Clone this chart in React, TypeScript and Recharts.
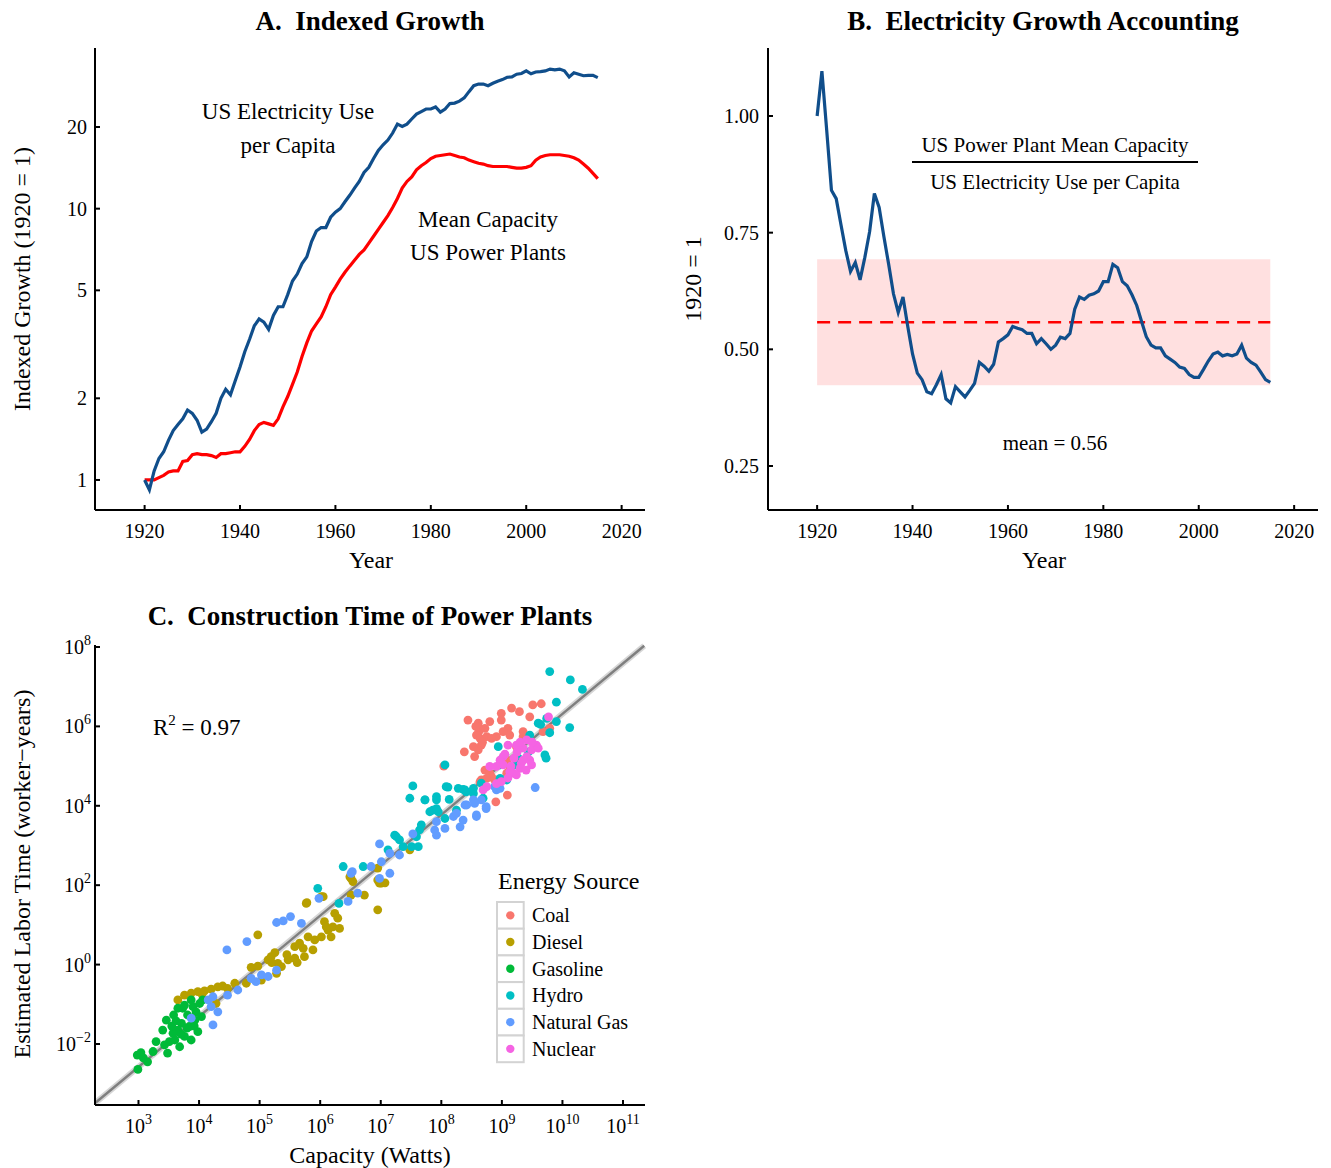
import React from 'react';
import {
  LineChart, Line, XAxis, YAxis, ReferenceArea, ReferenceLine,
  ScatterChart, Scatter,
} from 'recharts';

const SERIF = '"Liberation Serif", "Times New Roman", serif';

// ---------- Panel A & B data (1920..2015) ----------
const START_YEAR = 1920;
const ELEC_PER_CAPITA = [
  1.00, 0.92, 1.08, 1.20, 1.27, 1.40, 1.52, 1.60, 1.68, 1.81,
  1.76, 1.66, 1.50, 1.54, 1.64, 1.76, 2.00, 2.16, 2.06, 2.32,
  2.61, 2.97, 3.30, 3.70, 3.92, 3.82, 3.59, 4.04, 4.35, 4.35,
  4.82, 5.41, 5.74, 6.27, 6.64, 7.57, 8.27, 8.52, 8.52, 9.30,
  9.71, 10.0, 10.6, 11.2, 11.9, 12.6, 13.6, 14.2, 15.3, 16.4,
  17.2, 17.9, 19.0, 20.5, 20.1, 20.5, 21.4, 22.3, 22.8, 23.3,
  23.3, 23.7, 22.7, 23.3, 24.4, 24.5, 24.9, 25.6, 27.0, 28.4,
  28.8, 28.8, 28.4, 29.0, 29.5, 29.9, 30.5, 30.6, 31.3, 31.5,
  32.2, 31.4, 31.9, 32.0, 32.2, 32.7, 32.5, 32.7, 32.2, 30.6,
  31.7, 31.3, 30.9, 31.0, 31.0, 30.4,
];
const MEAN_CAPACITY = [
  1.00, 1.00, 1.00, 1.02, 1.04, 1.07, 1.08, 1.08, 1.17, 1.18,
  1.24, 1.25, 1.24, 1.24, 1.23, 1.21, 1.25, 1.25, 1.26, 1.27,
  1.27, 1.33, 1.41, 1.52, 1.60, 1.63, 1.61, 1.59, 1.68, 1.86,
  2.03, 2.25, 2.50, 2.85, 3.20, 3.54, 3.76, 3.99, 4.35, 4.82,
  5.14, 5.50, 5.83, 6.14, 6.45, 6.78, 7.04, 7.47, 7.91, 8.39,
  8.89, 9.43, 10.1, 10.9, 11.9, 12.6, 13.1, 13.9, 14.4, 14.8,
  15.3, 15.6, 15.7, 15.8, 15.9, 15.7, 15.5, 15.4, 15.1, 14.9,
  14.7, 14.6, 14.4, 14.3, 14.3, 14.3, 14.3, 14.2, 14.1, 14.1,
  14.2, 14.4, 15.1, 15.5, 15.7, 15.8, 15.8, 15.8, 15.7, 15.6,
  15.4, 15.1, 14.6, 14.1, 13.5, 12.9,
];
const RATIO = [
  1.000, 1.096, 0.970, 0.841, 0.823, 0.767, 0.712, 0.667, 0.686, 0.649,
  0.697, 0.752, 0.834, 0.804, 0.741, 0.682, 0.619, 0.579, 0.612, 0.549,
  0.490, 0.449, 0.435, 0.409, 0.405, 0.424, 0.446, 0.394, 0.385, 0.420,
  0.409, 0.398, 0.412, 0.427, 0.472, 0.464, 0.453, 0.468, 0.516, 0.523,
  0.531, 0.549, 0.545, 0.542, 0.534, 0.534, 0.512, 0.523, 0.512, 0.500,
  0.509, 0.526, 0.523, 0.534, 0.586, 0.612, 0.607, 0.616, 0.619, 0.625,
  0.645, 0.645, 0.682, 0.675, 0.645, 0.636, 0.617, 0.594, 0.560, 0.527,
  0.509, 0.503, 0.503, 0.486, 0.479, 0.472, 0.462, 0.459, 0.446, 0.440,
  0.440, 0.457, 0.475, 0.490, 0.494, 0.486, 0.489, 0.486, 0.490, 0.509,
  0.481, 0.472, 0.466, 0.451, 0.435, 0.429,
];
const RATIO_MEAN = 0.558;
const RATIO_BAND = [0.423, 0.693];
const YEAR_TICKS = [1920, 1940, 1960, 1980, 2000, 2020];
const GROWTH_TICKS = [1, 2, 5, 10, 20];
const RATIO_TICKS = [0.25, 0.5, 0.75, 1.0];

// ---------- Panel C data: [log10 capacity (W), log10 labor (worker-years)] ----------
const COAL = [
  [8.44, 6.16], [8.61, 6.08], [8.62, 5.87], [8.58, 5.78], [8.64, 5.70], [8.72, 5.95],
  [8.80, 6.12], [8.75, 5.74], [8.66, 5.53], [8.61, 5.41], [8.55, 5.24], [8.53, 5.49],
  [8.38, 5.36], [8.04, 5.00], [8.99, 6.33], [8.99, 6.16], [9.16, 6.46], [9.29, 6.37],
  [9.46, 6.24], [9.51, 6.54], [9.65, 6.57], [9.10, 5.95], [9.13, 5.78], [9.02, 5.87],
  [8.91, 5.74], [8.83, 5.70], [9.35, 5.87], [9.35, 5.74], [9.68, 5.87], [9.79, 5.95],
  [9.24, 5.49], [9.08, 5.15], [9.10, 5.03], [9.08, 4.82], [8.72, 4.90], [8.80, 4.82],
  [8.83, 4.73], [8.75, 4.69], [8.66, 4.65], [8.88, 4.65], [8.64, 4.61], [9.09, 4.27],
  [8.90, 4.10], [8.60, 5.99], [8.68, 5.60], [8.57, 6.00],
];
const DIESEL = [
  [3.65, -0.89], [3.76, -0.77], [3.87, -0.72], [3.98, -0.68], [4.09, -0.66], [4.28, -0.98],
  [4.31, -0.56], [4.39, -0.54], [4.47, -0.60], [4.59, -0.47], [4.78, -0.47], [4.86, -0.07],
  [4.97, -0.04], [4.97, 0.75], [5.03, -0.39], [5.14, 0.12], [5.19, 0.20], [5.28, -0.22],
  [5.30, 0.03], [5.36, -0.05], [5.47, 0.12], [5.58, 0.16], [5.58, 0.45], [5.66, 0.54],
  [5.72, 0.41], [5.74, 0.20], [5.80, 0.70], [5.88, 0.37], [5.91, 0.62], [6.02, 0.70],
  [6.07, 1.08], [6.13, 0.87], [6.18, 0.70], [6.21, 0.95], [6.24, 1.29], [6.29, 1.17],
  [6.32, 0.91], [5.78, 1.56], [6.05, 1.71], [6.51, 2.17], [6.51, 1.75], [6.73, 1.75],
  [6.95, 2.13], [6.95, 1.38], [7.01, 2.05], [6.95, 2.43], [6.49, 2.21], [6.54, 2.09],
  [6.98, 2.05], [7.07, 2.06], [7.48, 2.89], [6.02, 1.71], [5.77, 1.54], [5.20, 0.05],
  [5.25, 0.30], [4.20, -0.62], [4.05, -0.75], [5.45, 0.25], [5.62, 0.05], [6.10, 0.95],
];
const GASOLINE = [
  [2.99, -2.64], [2.98, -2.28], [3.04, -2.22], [3.15, -2.45], [3.24, -2.19], [3.29, -1.94],
  [3.40, -1.65], [3.46, -1.40], [3.48, -2.23], [3.51, -1.94], [3.58, -1.27], [3.60, -1.90],
  [3.65, -1.65], [3.68, -2.07], [3.71, -1.48], [3.73, -1.10], [3.76, -1.81], [3.81, -1.27],
  [3.84, -1.56], [3.87, -1.90], [3.90, -1.06], [3.93, -1.40], [3.98, -1.69], [3.95, -1.19],
  [4.01, -0.98], [4.04, -1.31], [4.06, -0.89], [3.65, -1.10], [3.57, -1.73], [3.43, -2.02],
  [3.76, -1.02], [3.87, -0.89], [3.08, -2.35], [3.55, -1.55], [3.70, -1.75], [3.92, -1.55],
  [3.80, -1.60], [3.62, -1.42],
];
const HYDRO = [
  [6.38, 2.47], [6.71, 2.47], [5.96, 1.92], [6.31, 1.54], [7.12, 2.89], [7.26, 3.22],
  [7.31, 3.14], [7.23, 3.26], [7.37, 2.97], [7.51, 2.97], [7.59, 3.22], [7.64, 3.39],
  [7.67, 3.52], [7.62, 2.97], [7.81, 3.85], [7.86, 3.89], [7.92, 4.15], [7.95, 3.85],
  [8.06, 3.68], [7.48, 4.19], [7.53, 4.50], [7.73, 4.15], [8.08, 4.48], [8.13, 4.16],
  [8.25, 3.89], [8.28, 4.44], [8.36, 4.41], [8.41, 4.35], [8.53, 4.31], [8.69, 4.19],
  [8.66, 4.57], [9.79, 7.38], [10.13, 7.17], [10.33, 6.93], [9.90, 6.61], [10.12, 5.97],
  [9.60, 6.08], [9.74, 6.20], [9.90, 6.12], [9.79, 5.84], [9.71, 5.28], [9.73, 5.20],
  [9.46, 5.78], [9.44, 5.36], [9.27, 5.20], [9.24, 5.03], [8.94, 5.49], [8.97, 5.03],
  [8.97, 4.69], [9.08, 4.65], [8.53, 4.44], [8.39, 4.40], [8.11, 4.47], [7.92, 4.23],
  [7.73, 4.15], [8.06, 5.03], [7.92, 3.93], [9.64, 6.05],
];
const NATURAL_GAS = [
  [4.46, 0.37], [4.79, 0.58], [5.28, 1.06], [5.39, 1.10], [5.51, 1.21], [5.69, 1.04],
  [5.98, 1.67], [6.51, 2.30], [6.62, 1.80], [6.46, 1.59], [7.15, 2.30], [6.98, 2.17],
  [4.23, -1.52], [4.20, -1.06], [4.31, -1.19], [4.15, -0.89], [3.87, -1.35], [4.47, -0.77],
  [4.64, -0.64], [4.86, -0.35], [5.03, -0.26], [5.14, -0.30], [5.28, -0.14], [4.94, -0.43],
  [4.23, -0.81], [6.98, 3.04], [7.01, 2.59], [6.84, 2.47], [6.53, 2.34], [7.15, 2.80],
  [7.31, 2.76], [7.53, 3.29], [7.92, 3.60], [7.89, 3.39], [7.92, 3.26], [8.06, 3.43],
  [8.20, 3.73], [8.36, 3.64], [8.31, 3.47], [8.39, 4.02], [8.58, 3.73], [8.53, 4.15],
  [8.74, 3.93], [8.91, 4.40], [8.66, 4.15], [9.55, 4.46], [8.97, 4.44], [8.88, 4.48],
  [8.74, 3.98], [8.55, 4.06], [8.42, 4.02], [8.58, 3.77], [8.25, 3.81],
];
const NUCLEAR = [
  [9.10, 5.53], [9.24, 5.53], [9.35, 5.45], [9.49, 5.41], [9.57, 5.53], [9.46, 5.15],
  [9.49, 5.03], [9.30, 4.94], [9.19, 4.82], [9.24, 4.78], [9.02, 5.24], [8.97, 5.15],
  [9.02, 5.03], [8.91, 4.99], [8.80, 4.99], [8.99, 4.61], [8.91, 4.56], [8.75, 4.48],
  [8.69, 4.40], [9.41, 5.24], [9.77, 6.24], [9.13, 4.86], [9.41, 5.66], [9.32, 5.07],
  [9.05, 5.30], [9.20, 5.20], [9.30, 5.60], [9.15, 5.00], [9.40, 4.90], [9.50, 5.60],
  [9.25, 5.35], [9.60, 5.45], [9.10, 4.70], [9.35, 5.15],
];
const SOURCES = ['Coal', 'Diesel', 'Gasoline', 'Hydro', 'Natural Gas', 'Nuclear'];
const SOURCE_POINTS = [COAL, DIESEL, GASOLINE, HYDRO, NATURAL_GAS, NUCLEAR];
const SOURCE_COLORS = ['#F8766D', '#B79F00', '#00BA38', '#00BFC4', '#619CFF', '#F564E3'];
const FIT_LOG = { x0: 2.29, y0: -3.48, x1: 11.35, y1: 8.03 };
const CAP_TICK_EXP = [3, 4, 5, 6, 7, 8, 9, 10, 11];
const LABOR_TICK_EXP = [-2, 0, 2, 4, 6, 8];

// ---------- tables ----------
const seriesTable = ELEC_PER_CAPITA.map((v, i) => ({
  year: START_YEAR + i,
  elec: v,
  cap: MEAN_CAPACITY[i],
  ratio: RATIO[i],
}));
const scatterTables = SOURCE_POINTS.map((pts) =>
  pts.map(([lx, ly]) => ({ x: Math.pow(10, lx), y: Math.pow(10, ly) }))
);

const BLUE = '#104E8B';
const tickStyle = { fill: '#000', fontSize: 20, fontFamily: SERIF };
const axisLine = { stroke: '#000', strokeWidth: 2 };
const tickLine = { stroke: '#000', strokeWidth: 2 };

const supStr = (e: number) => (e < 0 ? '\u2212' + Math.abs(e) : String(e));

const PowTickX = (props: any) => {
  const { x, y, payload } = props;
  const e = Math.round(Math.log10(payload.value));
  return (
    <text x={x} y={y + 15} textAnchor="middle" fontFamily={SERIF} fontSize={20} fill="#000">
      <tspan>10</tspan>
      <tspan dy={-9} fontSize={14}>{supStr(e)}</tspan>
    </text>
  );
};
const PowTickY = (props: any) => {
  const { x, y, payload } = props;
  const e = Math.round(Math.log10(payload.value));
  return (
    <text x={x} y={y + 7} textAnchor="end" fontFamily={SERIF} fontSize={20} fill="#000">
      <tspan>10</tspan>
      <tspan dy={-9} fontSize={14}>{supStr(e)}</tspan>
    </text>
  );
};

const Dot = (color: string) => (props: any) => (
  <circle cx={props.cx} cy={props.cy} r={4.4} fill={color} />
);

function PanelA() {
  return (
    <LineChart width={660} height={580} data={seriesTable}
      margin={{ top: 48, right: 15, bottom: 0, left: 0 }}>
      <XAxis dataKey="year" type="number" domain={[1909.6, 2024.9]} ticks={YEAR_TICKS} interval={0}
        allowDataOverflow height={70} tick={tickStyle} axisLine={axisLine} tickLine={tickLine}
        tickSize={-5} tickMargin={19} />
      <YAxis type="number" scale="log" domain={[0.775, 39.1]} ticks={GROWTH_TICKS} interval={0}
        allowDataOverflow width={95} tick={tickStyle} axisLine={axisLine} tickLine={tickLine}
        tickSize={-5} tickMargin={13} />
      <Line dataKey="cap" stroke="#FF0000" strokeWidth={3.2} dot={false} type="linear"
        isAnimationActive={false} />
      <Line dataKey="elec" stroke={BLUE} strokeWidth={3.2} dot={false} type="linear"
        isAnimationActive={false} />
    </LineChart>
  );
}

function PanelB() {
  return (
    <LineChart width={661} height={580} data={seriesTable}
      margin={{ top: 48, right: 13, bottom: 0, left: 0 }}>
      <XAxis dataKey="year" type="number" domain={[1909.7, 2025.0]} ticks={YEAR_TICKS} interval={0}
        allowDataOverflow height={70} tick={tickStyle} axisLine={axisLine} tickLine={tickLine}
        tickSize={-5} tickMargin={19} />
      <YAxis type="number" domain={[0.1557, 1.1457]} ticks={RATIO_TICKS} interval={0}
        tickFormatter={(v: number) => v.toFixed(2)}
        allowDataOverflow width={98} tick={tickStyle} axisLine={axisLine} tickLine={tickLine}
        tickSize={-5} tickMargin={14} />
      <ReferenceArea x1={START_YEAR} x2={2015} y1={RATIO_BAND[0]} y2={RATIO_BAND[1]}
        fill="#FF0000" fillOpacity={0.12} stroke="none" />
      <ReferenceLine segment={[{ x: START_YEAR, y: RATIO_MEAN }, { x: 2015, y: RATIO_MEAN }]}
        stroke="#FF0000" strokeWidth={2.5} strokeDasharray="13 8" />
      <Line dataKey="ratio" stroke={BLUE} strokeWidth={3.2} dot={false} type="linear"
        isAnimationActive={false} />
    </LineChart>
  );
}

function PanelC() {
  const seg = (w: number, c: string) => (
    <ReferenceLine
      segment={[
        { x: Math.pow(10, FIT_LOG.x0), y: Math.pow(10, FIT_LOG.y0) },
        { x: Math.pow(10, FIT_LOG.x1), y: Math.pow(10, FIT_LOG.y1) },
      ]}
      stroke={c} strokeWidth={w} ifOverflow="visible" />
  );
  return (
    <ScatterChart width={660} height={568}
      margin={{ top: 45, right: 15, bottom: 0, left: 0 }}>
      <XAxis dataKey="x" type="number" scale="log" domain={[Math.pow(10, 2.282), Math.pow(10, 11.363)]}
        ticks={CAP_TICK_EXP.map((e) => Math.pow(10, e))} interval={0} allowDataOverflow height={63}
        tick={<PowTickX />} axisLine={axisLine} tickLine={tickLine} tickSize={-5} tickMargin={18} />
      <YAxis dataKey="y" type="number" scale="log" domain={[Math.pow(10, -3.537), Math.pow(10, 8.05)]}
        ticks={LABOR_TICK_EXP.map((e) => Math.pow(10, e))} interval={0} allowDataOverflow width={95}
        tick={<PowTickY />} axisLine={axisLine} tickLine={tickLine} tickSize={-5} tickMargin={9} />
      {seg(6, '#d6d6d6')}
      {seg(2.4, '#7f7f7f')}
      {scatterTables.map((d, i) => (
        <Scatter key={SOURCES[i]} name={SOURCES[i]} data={d} fill={SOURCE_COLORS[i]}
          shape={Dot(SOURCE_COLORS[i])} isAnimationActive={false} />
      ))}
    </ScatterChart>
  );
}

function Overlay() {
  const t = (x: number, y: number, s: string, size: number, extra: any = {}) => (
    <text x={x} y={y} fontSize={size} fontFamily={SERIF} textAnchor="middle"
      dominantBaseline="central" fill="#000" {...extra}>{s}</text>
  );
  const NB = '\u00A0';
  return (
    <svg width={1331} height={1168} style={{ position: 'absolute', left: 0, top: 0, pointerEvents: 'none' }}>
      {t(370, 21, `A.${NB} Indexed Growth`, 27, { fontWeight: 'bold' })}
      {t(1043, 21, `B.${NB} Electricity Growth Accounting`, 27, { fontWeight: 'bold' })}
      {t(370, 616, `C.${NB} Construction Time of Power Plants`, 27, { fontWeight: 'bold' })}
      {t(371, 560, 'Year', 24)}
      {t(1044, 560, 'Year', 24)}
      {t(370, 1155, 'Capacity (Watts)', 24)}
      {t(22, 279, 'Indexed Growth (1920 = 1)', 24, { transform: 'rotate(-90 22 279)' })}
      {t(693, 279, '1920 = 1', 24, { transform: 'rotate(-90 693 279)' })}
      {t(22, 874, 'Estimated Labor Time (worker\u2212years)', 24, { transform: 'rotate(-90 22 874)' })}
      {t(288, 111, 'US Electricity Use', 23)}
      {t(288, 145, 'per Capita', 23)}
      {t(488, 219, 'Mean Capacity', 23)}
      {t(488, 252, 'US Power Plants', 23)}
      {t(1055, 145, 'US Power Plant Mean Capacity', 21)}
      <line x1={912} x2={1198} y1={162} y2={162} stroke="#000" strokeWidth={2} />
      {t(1055, 182, 'US Electricity Use per Capita', 21)}
      {t(1055, 443, 'mean = 0.56', 21)}
      <text x={153} y={735} fontSize={23} fontFamily={SERIF} fill="#000">
        <tspan>R</tspan><tspan dy={-10} fontSize={15}>2</tspan><tspan dy={10}> = 0.97</tspan>
      </text>
      <text x={498} y={881} fontSize={24} fontFamily={SERIF} dominantBaseline="central" fill="#000">Energy Source</text>
      {SOURCES.map((s, i) => {
        const top = 902 + i * 26.7;
        return (
          <g key={s}>
            <rect x={497} y={top} width={26.7} height={26.7} fill="#fff" stroke="#d3d3d3" strokeWidth={2} />
            <circle cx={510.3} cy={top + 13.35} r={4.2} fill={SOURCE_COLORS[i]} />
            <text x={532} y={top + 13.35} fontSize={20} fontFamily={SERIF} dominantBaseline="central" fill="#000">{s}</text>
          </g>
        );
      })}
    </svg>
  );
}

export default function App() {
  return (
    <div style={{ position: 'absolute', left: 0, top: 0, width: 1331, height: 1168, background: '#fff', fontFamily: SERIF }}>
      <div style={{ position: 'absolute', left: 0, top: 0 }}><PanelA /></div>
      <div style={{ position: 'absolute', left: 670, top: 0 }}><PanelB /></div>
      <div style={{ position: 'absolute', left: 0, top: 600 }}><PanelC /></div>
      <Overlay />
    </div>
  );
}
